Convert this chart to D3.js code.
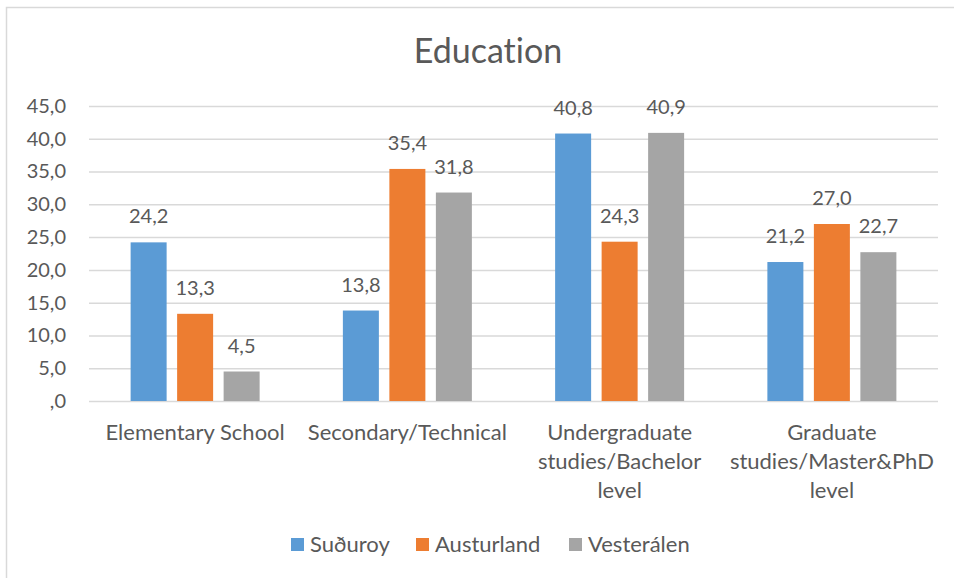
<!DOCTYPE html>
<html><head><meta charset="utf-8">
<script src="https://cdn.jsdelivr.net/npm/d3@7"></script>
<style>body{margin:0;background:#fff}svg{display:block}text{font-family:Lato,"Open Sans",sans-serif;fill:#595959;font-variant-ligatures:none}</style>
</head><body>
<svg id="c" width="954" height="578"></svg>
<script>
const title = "Education";
const categories = [["Elementary School"],["Secondary/Technical"],["Undergraduate","studies/Bachelor","level"],["Graduate","studies/Master&PhD","level"]];
const seriesNames = ["Suðuroy","Austurland","Vesterálen"];
const colors = ["#5B9BD5","#ED7D31","#A5A5A5"];
const sudhuroy = [24.2, 13.8, 40.8, 21.2];
const austurland = [13.3, 35.4, 24.3, 27.0];
const vesteralen = [4.5, 31.8, 40.9, 22.7];
const tickValues = [0,5,10,15,20,25,30,35,40,45];
const tickLabels = [",0","5,0","10,0","15,0","20,0","25,0","30,0","35,0","40,0","45,0"];
const series = [sudhuroy, austurland, vesteralen];
const fmt = v => v.toFixed(1).replace(".", ",");

const svg = d3.select("#c");
svg.append("rect").attr("x",6.5).attr("y",7.5).attr("width",1000).attr("height",1000)
  .attr("fill","#fff").attr("stroke","#D9D9D9").attr("stroke-width",1.5);

const pL=89, pR=938, pT=106, pB=401;
const x = d3.scaleBand().domain(d3.range(categories.length)).range([pL,pR]);
const y = d3.scaleLinear().domain([0,45]).range([pB,pT]);
const xs = d3.scaleBand().domain(d3.range(3)).range([-64.5,64.5]).paddingInner(10.5/46.5).paddingOuter(0);

svg.append("text").attr("x",488).attr("y",63).attr("text-anchor","middle")
  .style("font-size","34px").text(title);

const yAxis = d3.axisLeft(y).tickValues(tickValues).tickSize(-(pR-pL)).tickFormat((d,i)=>tickLabels[i]).tickPadding(23);
const ga = svg.append("g").attr("transform",`translate(${pL},0)`).call(yAxis);
ga.select(".domain").remove();
ga.selectAll(".tick line").attr("stroke","#D9D9D9").attr("stroke-width",1.5);
ga.selectAll(".tick text").style("font-size","20px").attr("fill","#595959").style("font-family","Lato");

series.forEach((vals,si)=>{
  const g = svg.append("g");
  g.selectAll("rect").data(vals).join("rect")
    .attr("x",(d,i)=>x(i)+x.bandwidth()/2+xs(si))
    .attr("width",xs.bandwidth())
    .attr("y",d=>y(d)).attr("height",d=>y(0)-y(d))
    .attr("fill",colors[si]);
  g.selectAll("text").data(vals).join("text")
    .attr("x",(d,i)=>x(i)+x.bandwidth()/2+xs(si)+xs.bandwidth()/2)
    .attr("y",d=>y(d)-19).attr("text-anchor","middle")
    .style("font-size","20px").text(d=>fmt(d));
});

categories.forEach((lines,i)=>{
  const t = svg.append("text").attr("text-anchor","middle").style("font-size","22px");
  lines.forEach((l,j)=>t.append("tspan").attr("x",x(i)+x.bandwidth()/2).attr("y",440+j*29).text(l));
});

const legX=[291,416,569];
seriesNames.forEach((n,i)=>{
  svg.append("rect").attr("x",legX[i]).attr("y",538).attr("width",13).attr("height",13).attr("fill",colors[i]);
  svg.append("text").attr("x",legX[i]+19).attr("y",552).style("font-size","22px").text(n);
});
</script>
</body></html>
